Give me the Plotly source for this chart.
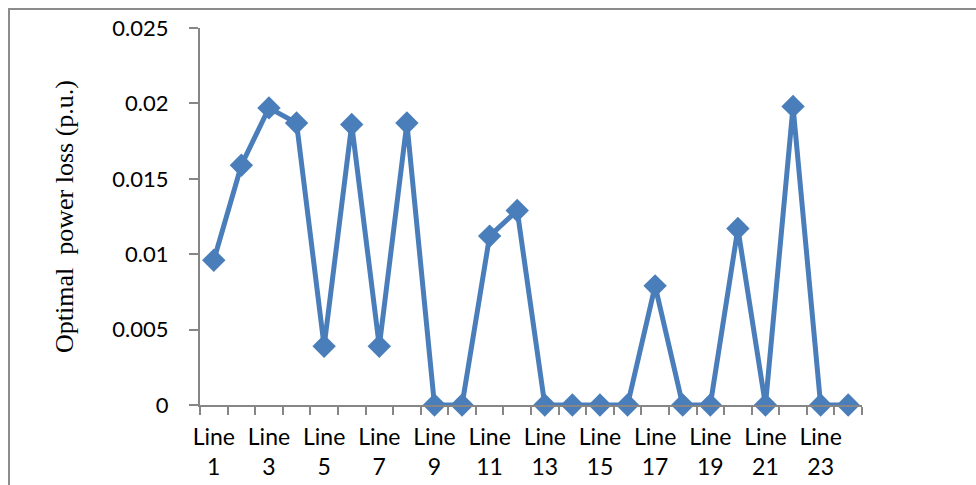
import plotly.graph_objects as go

line_idx = list(range(1, 25))
power_loss = [0.0096, 0.0159, 0.0197, 0.0187, 0.0039, 0.0186, 0.0039, 0.0187,
              0.0, 0.0, 0.0112, 0.0129, 0.0, 0.0, 0.0, 0.0,
              0.0079, 0.0, 0.0, 0.0117, 0.0, 0.0198, 0.0, 0.0]
label_vals = list(range(1, 25, 2))
label_text = [f"Line<br>{i}" for i in label_vals]
y_ticks = [0, 0.005, 0.01, 0.015, 0.02, 0.025]
y_tick_text = ["0", "0.005", "0.01", "0.015", "0.02", "0.025"]

blue = "#4A7EBB"
axis_grey = "#868686"

fig = go.Figure()
fig.add_trace(go.Scatter(
    x=line_idx, y=power_loss, mode="lines+markers",
    line=dict(color=blue, width=5),
    marker=dict(symbol="diamond", size=18, color=blue),
    showlegend=False, cliponaxis=False,
))

fig.update_layout(
    width=976, height=485,
    margin=dict(l=200, r=114, t=28, b=80),
    paper_bgcolor="white", plot_bgcolor="white",
    font=dict(family="Lato, Noto Sans, sans-serif", size=22, color="black"),
    xaxis=dict(
        range=[0.5, 24.5], tickmode="array", tickvals=label_vals, ticktext=label_text,
        ticks="", showgrid=False, zeroline=False, automargin=False,
        showline=True, linecolor=axis_grey, linewidth=2,
        minor=dict(tick0=0.5, dtick=1, ticks="outside", ticklen=8, tickwidth=2,
                   tickcolor=axis_grey, showgrid=False),
        ticklabelstandoff=10, tickfont=dict(size=23),
    ),
    yaxis=dict(
        range=[0, 0.025], tickmode="array", tickvals=y_ticks, ticktext=y_tick_text,
        ticks="outside", ticklen=9, tickwidth=2, tickcolor=axis_grey,
        showgrid=False, zeroline=False, automargin=False,
        showline=True, linecolor=axis_grey, linewidth=2,
        ticklabelstandoff=16, tickfont=dict(size=22),
        title=dict(text="Optimal  power loss (p.u.)",
                   font=dict(family="Liberation Serif, Times New Roman, serif", size=26),
                   standoff=31),
    ),
    shapes=[dict(type="rect", xref="paper", yref="paper",
                 x0=-0.2885, x1=1.3, y0=-0.4, y1=1.0504,
                 line=dict(color="#8C8C8C", width=2), fillcolor="rgba(0,0,0,0)",
                 layer="below")],
)

fig.write_html("out.html", config={"displayModeBar": False},
               post_script="document.body.style.margin='0';document.body.style.overflow='hidden';")
